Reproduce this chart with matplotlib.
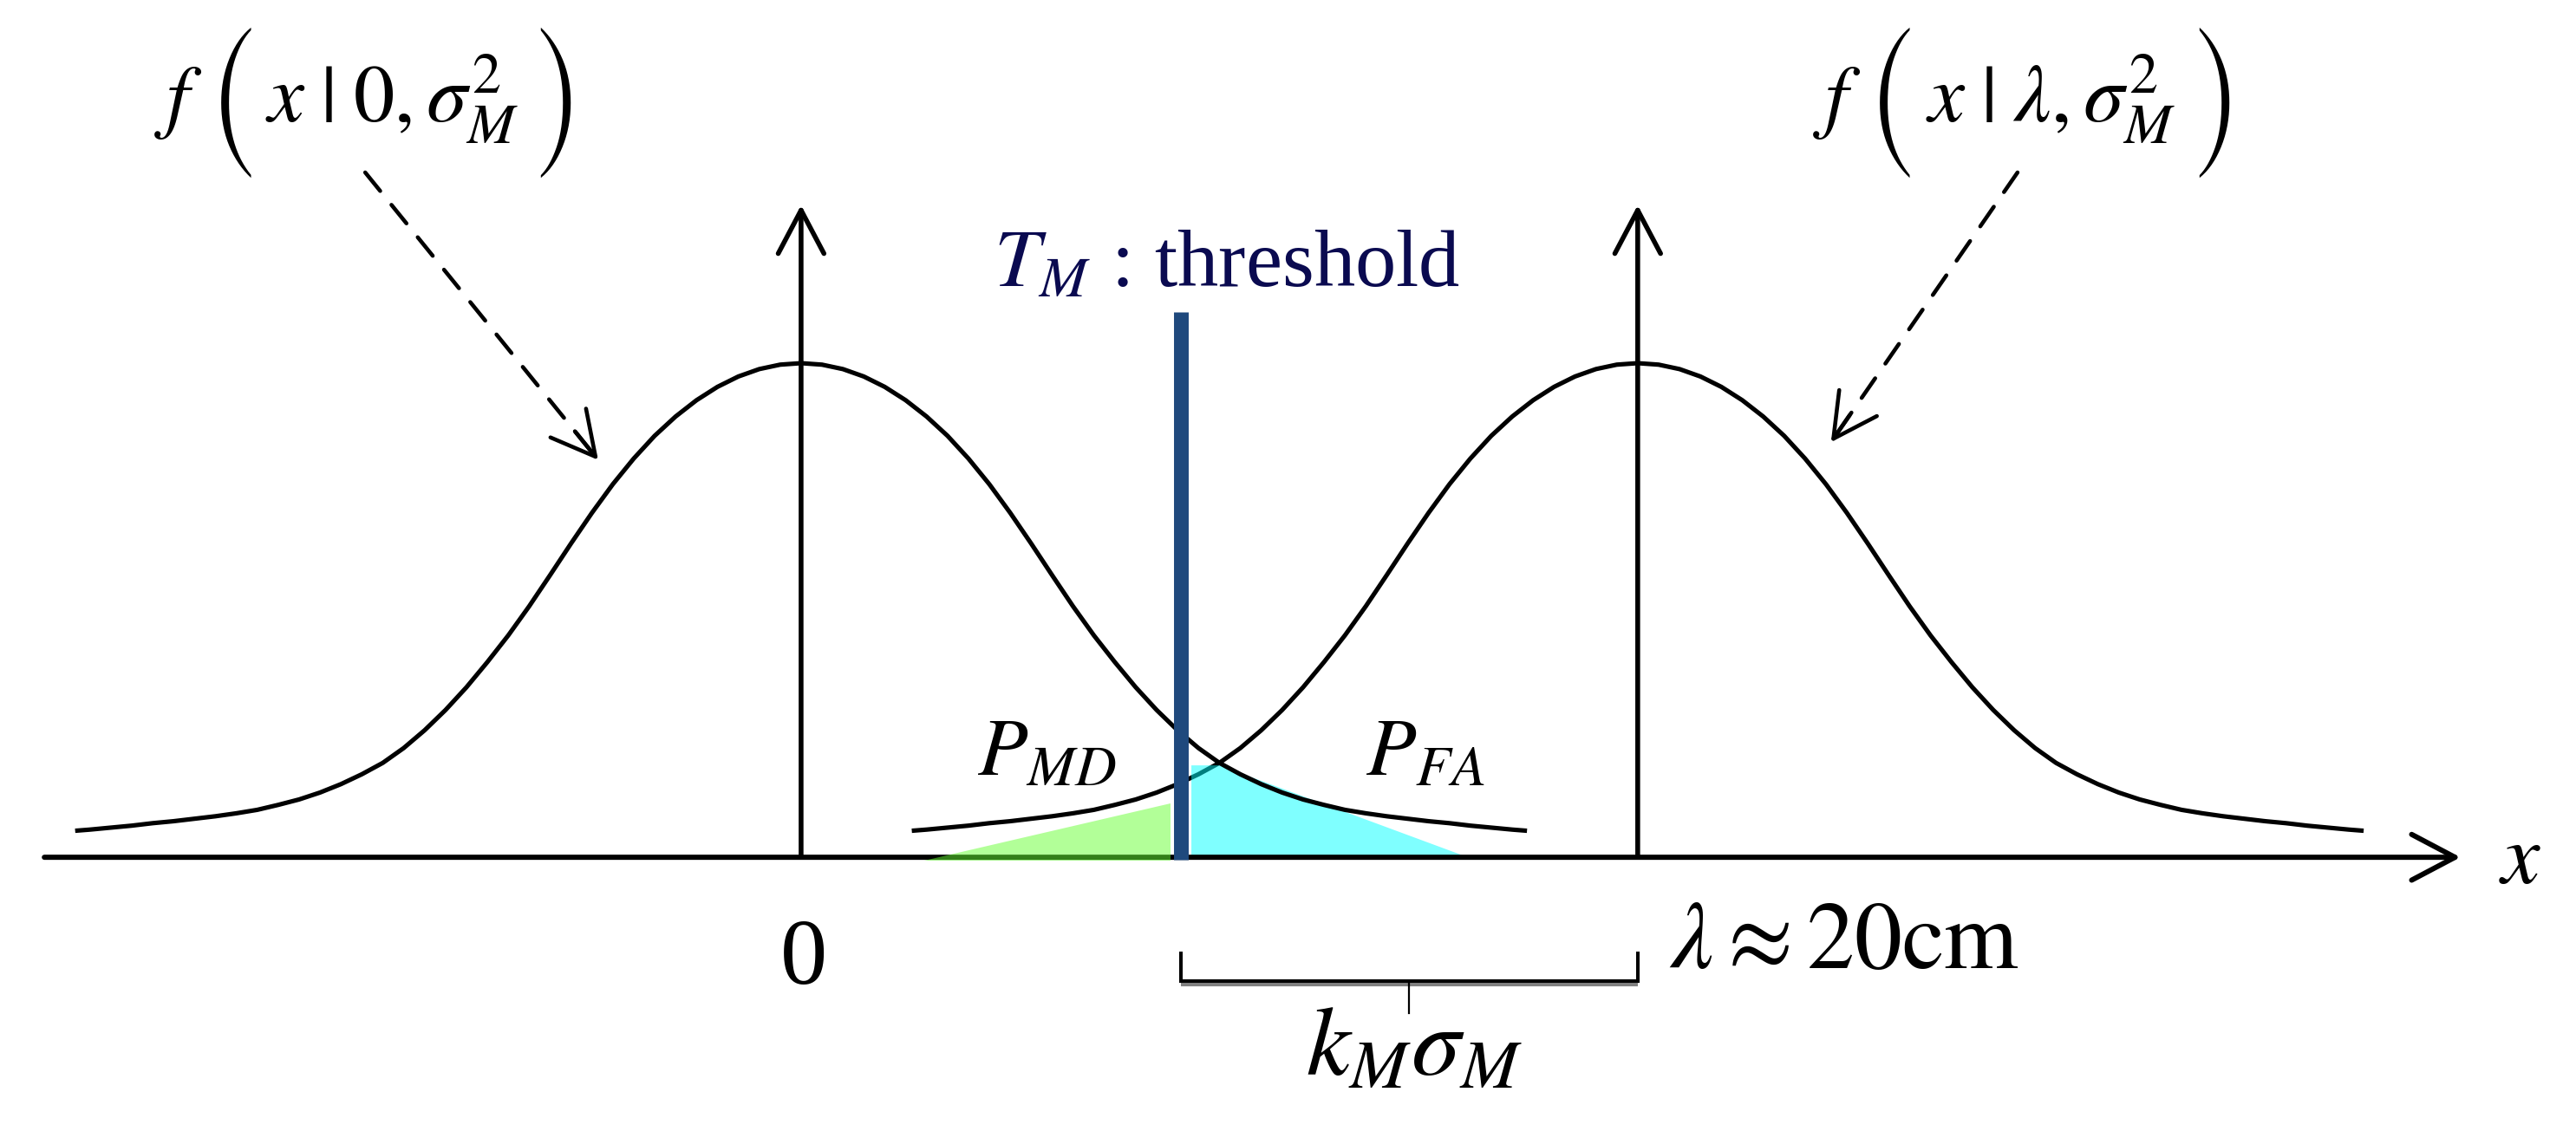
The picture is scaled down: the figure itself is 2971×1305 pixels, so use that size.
#!/usr/bin/env python

# ------------------------------------------------------------------------
# Imports

import numpy as np
import matplotlib
matplotlib.use('Agg')
import matplotlib.pyplot as plt

# ------------------------------------------------------------------------
# Parameters

plt.rcParams['mathtext.fontset'] = 'stix'
plt.rcParams['font.family'] = ['Liberation Serif', 'DejaVu Serif']

# half profile of the bell curves
# (distance from the centre, height relative to the peak)
prof_d = [0, 0.5, 1.0, 1.5, 2.0, 2.5, 3.0, 3.5, 4.0, 4.5, 5.0, 5.5, 6.0,
          6.5, 7.0, 7.5, 8.0, 8.5, 9.0, 9.5, 10.0, 10.5, 11.0, 11.5, 12.0,
          12.5, 13.0, 13.5, 14.0, 14.5, 15.0, 15.5, 16.0, 16.5, 17.0, 17.3]
prof_h = [1.000, 0.997, 0.988, 0.973, 0.952, 0.925, 0.892, 0.853, 0.807,
          0.755, 0.697, 0.635, 0.571, 0.508, 0.449, 0.395, 0.344, 0.298,
          0.257, 0.221, 0.191, 0.168, 0.148, 0.131, 0.117, 0.106, 0.096,
          0.089, 0.083, 0.078, 0.073, 0.069, 0.064, 0.060, 0.056, 0.054]

centres = [0, 20]          # 0 and lambda ~ 20cm
threshold = 9.07

# shaded tails (P_MD green, P_FA cyan)
md_x = [2.95, 8.83, 8.83]
md_y = [-0.006, -0.006, 0.109]
fa_x = [9.33, 9.33, 10.0, 15.94]
fa_y = [0, 0.186, 0.186, 0]

# formula labels above the curves: body centre and body text
formulas = [(-9.78, r'$x\;|\;0,\sigma_M^{2}$'),
            (29.87, r'$x\;|\;\lambda,\sigma_M^{2}$')]

# dashed pointers from the labels to the curves: (start, tip)
pointers = [((-10.42, 1.386), (-4.85, 0.804)),
            ((29.08, 1.386), (24.62, 0.840))]

head = '->,head_length=36,head_width=19'
fs = 68

# --------
# Plotting

fig = plt.figure(figsize=(29.71, 13.05), dpi=100)
ax = fig.add_axes([0, 0, 1, 1])
ax.set_xlim(-19.15, 42.43)
ax.set_ylim(-0.554, 1.735)
ax.axis('off')

d = np.array(prof_d)
h = np.array(prof_h)
xs = np.concatenate([-d[::-1], d[1:]])
ys = np.concatenate([h[::-1], h[1:]])

ax.plot(centres[0] + xs, ys, color='black', lw=3.7, zorder=4,
        solid_joinstyle='round')
ax.plot(centres[1] + xs, ys, color='black', lw=3.7, zorder=2,
        solid_joinstyle='round')

ax.fill(fa_x, fa_y, color='#00FFFF', alpha=0.5, lw=0, zorder=3)
ax.fill(md_x, md_y, color='#66FF33', alpha=0.5, lw=0, zorder=5)

# x axis and the two vertical arrows
ax.annotate('', xy=(39.67, 0), xytext=(-18.09, 0), zorder=4,
            arrowprops=dict(arrowstyle=head, lw=4.3, color='black',
                            shrinkA=0, shrinkB=0, mutation_scale=1))
for c in centres:
    ax.annotate('', xy=(c, 1.32), xytext=(c, 0), zorder=4,
                arrowprops=dict(arrowstyle=head, lw=4.0, color='black',
                                shrinkA=0, shrinkB=0, mutation_scale=1))

# threshold
ax.plot([threshold, threshold], [-0.005, 1.104], color='#1F497D', lw=12.2,
        solid_capstyle='butt', zorder=6)

# dashed pointers
for start, tip in pointers:
    start = np.array(start)
    tip = np.array(tip)
    ax.annotate('', xy=tip, xytext=start,
                arrowprops=dict(arrowstyle='-', lw=3.3, ls=(0, (6, 4.5)),
                                color='black', shrinkA=0, shrinkB=0))
    near = tip + 0.1 * (start - tip)
    ax.annotate('', xy=tip, xytext=near,
                arrowprops=dict(arrowstyle=head, lw=3.3, color='black',
                                shrinkA=0, shrinkB=0, mutation_scale=1))

# bracket between threshold and lambda
bx0, bx1 = threshold, centres[1]
ax.plot([bx0, bx1], [-0.258, -0.258], color='#808080', lw=3.0,
        solid_capstyle='butt')
ax.plot([bx0, bx0, bx1, bx1], [-0.195, -0.251, -0.251, -0.195],
        color='black', lw=2.9, solid_joinstyle='miter')
ax.plot([(bx0 + bx1) / 2] * 2, [-0.251, -0.315], color='black', lw=1.6)

# formula labels with tall brackets
for uc, body in formulas:
    ax.text(uc - 5.1, 1.488, r'$f$', fontsize=fs, ha='center',
            va='baseline')
    ax.text(uc - 3.77, 1.528, '(', fontsize=68, family='STIXSizeTwoSym',
            ha='center', va='center')
    ax.text(uc, 1.488, body, fontsize=fs, ha='center', va='baseline')
    ax.text(uc + 3.92, 1.528, ')', fontsize=68, family='STIXSizeTwoSym',
            ha='center', va='center')

ax.text(4.60, 1.156, r'$T_M$ : threshold', color='#0A0A50',
        fontsize=fs, ha='left', va='baseline')
ax.text(4.21, 0.167, r'$P_{MD}$', fontsize=fs, ha='left', va='baseline')
ax.text(13.49, 0.167, r'$P_{FA}$', fontsize=fs, ha='left', va='baseline')
ax.text(0.06, -0.21, '0', fontsize=78, ha='center', va='center')
ax.text(20.75, -0.225, r'$\lambda \approx 20\mathrm{cm}$', fontsize=79,
        ha='left', va='baseline')
ax.text(14.65, -0.44, r'$k_M\sigma_M$', fontsize=82, ha='center',
        va='baseline')
ax.text(41.1, -0.01, r'$x$', fontsize=72, ha='center', va='center')

fig.savefig('out.png', dpi=100)
